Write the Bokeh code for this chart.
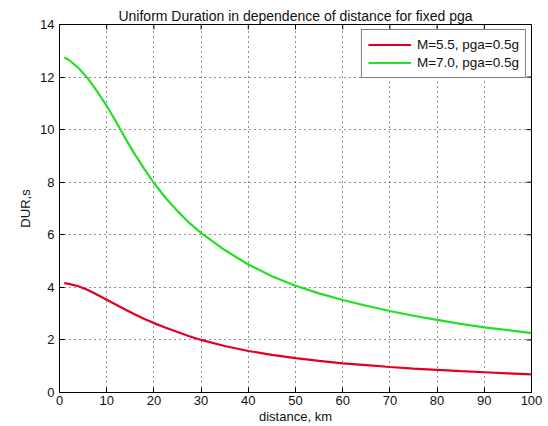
from bokeh.plotting import figure
from bokeh.models import Range1d, FixedTicker, Legend, LegendItem
from bokeh.embed import file_html
from bokeh.resources import INLINE

title = "Uniform Duration in dependence of distance for fixed pga"
distance = [1, 2, 4, 6, 8, 10, 12, 14, 16, 18, 20, 22.5, 25, 27.5, 30, 35, 40, 45, 50, 55, 60,
            65, 70, 75, 80, 85, 90, 95, 100]
dur_m55 = [4.16, 4.13, 4.04, 3.9, 3.72, 3.53, 3.34, 3.15, 2.97, 2.8, 2.64, 2.46, 2.3, 2.14, 2.0,
           1.77, 1.58, 1.43, 1.31, 1.2, 1.11, 1.04, 0.97, 0.91, 0.86, 0.81, 0.77, 0.73, 0.69]
dur_m70 = [12.75, 12.65, 12.35, 11.95, 11.45, 10.9, 10.3, 9.65, 9.05, 8.5, 7.97, 7.4, 6.9, 6.45,
           6.07, 5.42, 4.87, 4.42, 4.06, 3.77, 3.52, 3.3, 3.1, 2.92, 2.76, 2.61, 2.48, 2.37, 2.26]
labels = ["M=5.5, pga=0.5g", "M=7.0, pga=0.5g"]
x_ticks = [0, 10, 20, 30, 40, 50, 60, 70, 80, 90, 100]
y_ticks = [0, 2, 4, 6, 8, 10, 12, 14]
X_MIN, X_MAX, Y_MIN, Y_MAX = 0, 100, 0, 14

FONT = "Liberation Sans"
TXT = "#111111"

p = figure(width=548, height=426, output_backend="svg", toolbar_location=None,
           x_range=Range1d(X_MIN, X_MAX), y_range=Range1d(Y_MIN, Y_MAX),
           min_border_left=59, min_border_right=17, min_border_top=24, min_border_bottom=30,
           x_axis_label="distance, km", y_axis_label="DUR,s")
p.background_fill_color = "white"
p.border_fill_color = "white"
p.outline_line_color = "black"
p.outline_line_width = 1

p.title.text = title
p.title.text_font = FONT
p.title.text_font_size = "14px"
p.title.text_font_style = "normal"
p.title.align = "center"
p.title.text_color = TXT
p.title.standoff = 1

for ax in (p.xaxis[0], p.yaxis[0]):
    ax.major_label_text_font = FONT
    ax.major_label_text_font_size = "13px"
    ax.major_label_text_color = TXT
    ax.axis_label_text_font = FONT
    ax.axis_label_text_font_size = "13px"
    ax.axis_label_text_font_style = "normal"
    ax.axis_label_text_color = TXT
    ax.major_tick_in = 5
    ax.major_tick_out = 0
    ax.minor_tick_line_color = None
    ax.axis_line_color = "black"
    ax.major_tick_line_color = "black"
p.xaxis[0].ticker = FixedTicker(ticks=x_ticks)
p.yaxis[0].ticker = FixedTicker(ticks=y_ticks)
p.xaxis[0].axis_label_standoff = 1
p.yaxis[0].axis_label_standoff = 4
p.xaxis[0].major_label_standoff = 3
p.yaxis[0].major_label_standoff = 5

p.xgrid[0].ticker = FixedTicker(ticks=x_ticks)
p.ygrid[0].ticker = FixedTicker(ticks=y_ticks)
for g in (p.xgrid[0], p.ygrid[0]):
    g.grid_line_color = "#222222"
    g.grid_line_dash = "1 4"
    g.grid_line_width = 1

# tick marks on the top and right edges (MATLAB box style)
tick_len_y = 5 / 26.3
tick_len_x = 5 / 4.7
p.segment(x0=x_ticks, y0=[Y_MAX] * len(x_ticks), x1=x_ticks,
          y1=[Y_MAX - tick_len_y] * len(x_ticks), line_color="black", line_width=1)
p.segment(x0=[X_MAX] * len(y_ticks), y0=y_ticks, x1=[X_MAX - tick_len_x] * len(y_ticks),
          y1=y_ticks, line_color="black", line_width=1)

r1 = p.line(distance, dur_m55, line_color="#e3001e", line_width=2.2)
r2 = p.line(distance, dur_m70, line_color="#22e022", line_width=2.2)

legend = Legend(items=[LegendItem(label=labels[0], renderers=[r1]),
                       LegendItem(label=labels[1], renderers=[r2])],
                location="top_right")
legend.label_text_font = FONT
legend.label_text_font_size = "13.5px"
legend.label_text_color = TXT
legend.border_line_color = "black"
legend.border_line_width = 1
legend.background_fill_color = "white"
legend.background_fill_alpha = 1
legend.glyph_width = 43
legend.glyph_height = 17
legend.label_height = 17
legend.spacing = 1
legend.padding = 6
legend.margin = 5
legend.label_standoff = 6
p.add_layout(legend)

open("out.html", "w").write(file_html(p, INLINE))
